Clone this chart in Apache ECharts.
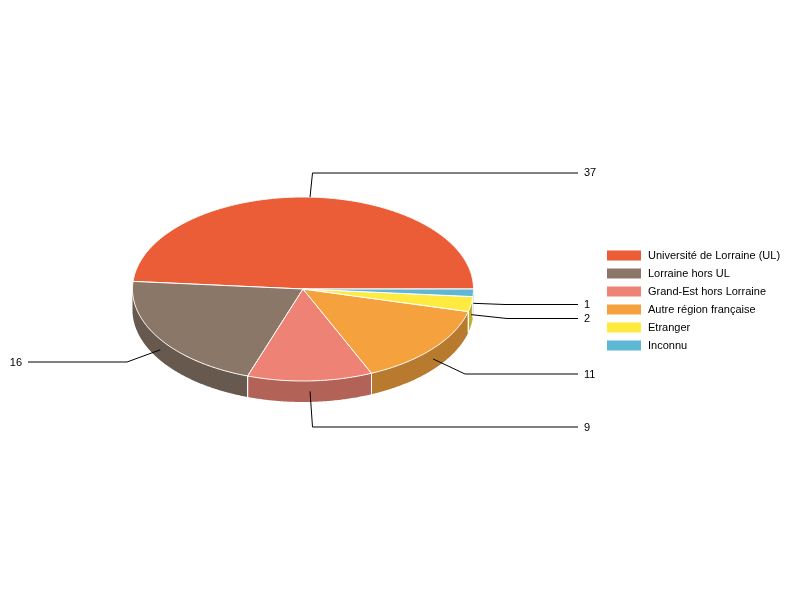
<!DOCTYPE html>
<html>
<head>
<meta charset="utf-8">
<style>html,body{margin:0;padding:0;background:#fff}#c{width:800px;height:600px}</style>
<script src="https://cdn.jsdelivr.net/npm/echarts@6/dist/echarts.min.js"></script>
</head>
<body>
<div id="c"></div>
<script>
const categories = ['Université de Lorraine (UL)', 'Lorraine hors UL', 'Grand-Est hors Lorraine', 'Autre région française', 'Etranger', 'Inconnu'];
const values = [37, 16, 9, 11, 2, 1];
const colors = ['#EA5D37', '#8A7768', '#EE8275', '#F5A23E', '#FFEB3F', '#5FB7D6'];

// layout of the pie (pixels)
const cx = 303, cy = 289, rx = 170.5, ry = 92, depth = 21;
// leader-line layout: elbow [x, y], end x, label position, text align, whether the line starts on the wall
const leaders = [
  { elbow: [312.5, 173], endX: 578, textX: 584, textY: 172.5, align: 'left', wall: false },
  { elbow: [127, 362], endX: 28, textX: 22, textY: 362.5, align: 'right', wall: true },
  { elbow: [312.5, 427], endX: 578, textX: 584, textY: 427.5, align: 'left', wall: true },
  { elbow: [465, 374], endX: 578, textX: 584, textY: 374.5, align: 'left', wall: true },
  { elbow: [507, 318.5], endX: 578, textX: 584, textY: 318.5, align: 'left', wall: true },
  { elbow: [505, 304.5], endX: 578, textX: 584, textY: 304.5, align: 'left', wall: true }
];

const total = values.reduce((a, b) => a + b, 0);
function darken(hex, f) {
  const n = parseInt(hex.slice(1), 16);
  const c = [(n >> 16) & 255, (n >> 8) & 255, n & 255].map(v => Math.round(v * f));
  return 'rgb(' + c.join(',') + ')';
}
function pt(deg, dy) {
  const a = deg * Math.PI / 180;
  return [cx + rx * Math.cos(a), cy - ry * Math.sin(a) + (dy || 0)];
}
function arc(a0, a1, dy) {
  const pts = [];
  const n = Math.max(2, Math.ceil(Math.abs(a1 - a0) * 2));
  for (let i = 0; i <= n; i++) pts.push(pt(a0 + (a1 - a0) * i / n, dy));
  return pts;
}

let cum = 0;
const series = categories.map((name, i) => {
  const start = cum / total * 360;
  cum += values[i];
  const end = cum / total * 360;
  return {
    type: 'custom',
    name: name,
    coordinateSystem: 'none',
    silent: true,
    animation: false,
    itemStyle: { color: colors[i] },
    data: [[values[i]]],
    renderItem: function (params, api) {
      const children = [];
      const color = colors[i];
      // wall: only the front half (180..360 deg) is visible
      const w0 = Math.max(start, 180), w1 = Math.min(end, 360);
      if (w1 > w0) {
        const wall = arc(w0, w1, 0).concat(arc(w1, w0, depth));
        children.push({ type: 'polygon', z2: 1, shape: { points: wall }, style: { fill: darken(color, 0.75), stroke: null } });
        [w0, w1].forEach(a => {
          if (a > 180 && a < 360) {
            children.push({ type: 'line', z2: 2, shape: { x1: pt(a)[0], y1: pt(a)[1], x2: pt(a, depth)[0], y2: pt(a, depth)[1] }, style: { stroke: '#fff', lineWidth: 1 } });
          }
        });
      }
      // top face
      const top = [[cx, cy]].concat(arc(start, end, 0));
      children.push({ type: 'polygon', z2: 3, shape: { points: top }, style: { fill: color, stroke: '#fff', lineWidth: 1, lineJoin: 'round' } });
      // leader line + value label
      const L = leaders[i];
      const mid = (start + end) / 2;
      const s = pt(mid, L.wall ? depth / 2 : 0);
      children.push({ type: 'polyline', z2: 4, shape: { points: [s, L.elbow, [L.endX, L.elbow[1]]] }, style: { stroke: '#000', lineWidth: 1, fill: null } });
      children.push({ type: 'text', z2: 5, style: { x: L.textX, y: L.textY, text: String(api.value(0)), fill: '#000', font: '11px "Liberation Sans", Arial, sans-serif', align: L.align, verticalAlign: 'middle' } });
      return { type: 'group', children: children };
    }
  };
});

const chart = echarts.init(document.getElementById('c'), null, { renderer: 'canvas' });
chart.setOption({
  backgroundColor: '#fff',
  animation: false,
  legend: {
    orient: 'vertical',
    left: 607,
    top: 249,
    itemWidth: 34,
    itemHeight: 10,
    itemGap: 5,
    icon: 'rect',
    selectedMode: false,
    padding: 0,
    textStyle: { color: '#000', fontFamily: '"Liberation Sans", Arial, sans-serif', fontSize: 11, lineHeight: 13, padding: [0, 0, 0, 2] },
    data: categories
  },
  series: series
});
</script>
</body>
</html>
